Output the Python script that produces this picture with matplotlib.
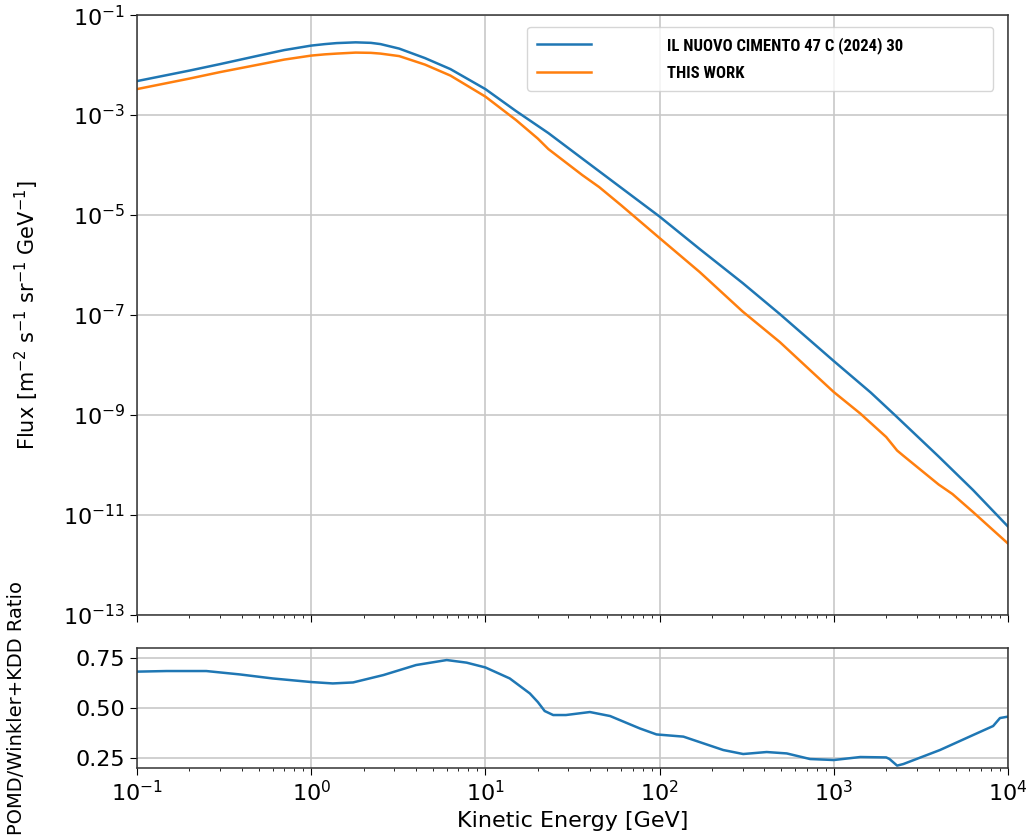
import numpy as np
import matplotlib
matplotlib.use("Agg")
import matplotlib.pyplot as plt
from matplotlib import font_manager
from matplotlib.ticker import NullLocator, FormatStrFormatter

# flux (energy in GeV, log10 of flux)
energy_ref = [0.1, 0.2, 0.3, 0.5, 0.7, 1.0, 1.2, 1.4, 1.8, 2.2, 2.5, 3.2, 4.5, 6.3, 10, 15,
              23, 36, 60, 100, 170, 300, 490, 1000, 1630, 2290, 4000, 6300, 10000]
logflux_ref = [-2.32, -2.11, -1.98, -1.81, -1.70, -1.61, -1.58, -1.56, -1.545, -1.555, -1.58,
               -1.67, -1.86, -2.08, -2.48, -2.92, -3.36, -3.87, -4.45, -5.03, -5.68, -6.36,
               -6.98, -7.92, -8.55, -9.03, -9.83, -10.5, -11.23]

energy_this = [0.1, 0.2, 0.3, 0.5, 0.7, 1.0, 1.2, 1.4, 1.8, 2.2, 2.5, 3.2, 4.5, 6.3, 10, 15,
               20, 23, 36, 45, 60, 100, 170, 300, 490, 730, 1000, 1420, 2000, 2310, 2500,
               4000, 4800, 6300, 8200, 10000]
logflux_this = [-2.48, -2.27, -2.14, -1.99, -1.89, -1.81, -1.785, -1.77, -1.75, -1.755, -1.77,
                -1.82, -1.99, -2.21, -2.63, -3.10, -3.47, -3.68, -4.20, -4.44, -4.80, -5.46,
                -6.14, -6.93, -7.54, -8.10, -8.54, -8.97, -9.44, -9.71, -9.81, -10.39,
                -10.58, -10.94, -11.30, -11.57]

# ratio panel
energy_ratio = [0.1, 0.148, 0.25, 0.39, 0.6, 1.0, 1.33, 1.74, 2.6, 4.0, 6.0, 7.8, 10, 13.8,
                18, 20, 21.9, 24.5, 29, 39.8, 52, 77, 96, 137, 232, 302, 412, 537, 731,
                1000, 1420, 2000, 2090, 2310, 2510, 4070, 6310, 8220, 9000, 10000]
ratio = [0.682, 0.685, 0.685, 0.668, 0.648, 0.63, 0.623, 0.628, 0.665, 0.715, 0.74, 0.727,
         0.703, 0.648, 0.573, 0.53, 0.485, 0.465, 0.465, 0.48, 0.46, 0.398, 0.368, 0.357,
         0.29, 0.27, 0.28, 0.273, 0.245, 0.24, 0.255, 0.253, 0.245, 0.212, 0.22, 0.29,
         0.365, 0.41, 0.45, 0.457]

label_ref = "IL NUOVO CIMENTO 47 C (2024) 30"
label_this = "THIS WORK"

# condensed bold font for the legend, if one is around
available = {f.name for f in font_manager.fontManager.ttflist}
legend_font = "DejaVu Sans"
for name in ["Liberation Sans Narrow", "Roboto Condensed", "DejaVu Sans Condensed", "Liberation Sans"]:
    if name in available:
        legend_font = name
        break

plt.rcParams["font.family"] = ["DejaVu Sans"]

fig = plt.figure(figsize=(10.30, 8.39), dpi=100)
ax = fig.add_axes([0.133, 0.267, 0.8456, 0.715])
axr = fig.add_axes([0.133, 0.0846, 0.8456, 0.143], sharex=ax)

blue = "#1f77b4"
orange = "#ff7f0e"

ax.plot(energy_ref, 10.0 ** np.array(logflux_ref), color=blue, lw=1.8, label=label_ref)
ax.plot(energy_this, 10.0 ** np.array(logflux_this), color=orange, lw=1.8, label=label_this)
ax.set_xscale("log")
ax.set_yscale("log")
ax.set_xlim(0.1, 1e4)
ax.set_ylim(1e-13, 1e-1)
ax.set_yticks([10.0 ** e for e in range(-1, -14, -2)])
ax.yaxis.set_minor_locator(NullLocator())
ax.tick_params(labelbottom=False, labelsize=16, length=5)
ax.grid(True, color="#c8c8c8", lw=1.2)
ax.set_ylabel(r"Flux [m$^{-2}$ s$^{-1}$ sr$^{-1}$ GeV$^{-1}$]", fontsize=15)
ax.yaxis.set_label_coords(-0.11, 0.5)

leg = ax.legend(loc="upper left", bbox_to_anchor=(0.448, 0.872, 0.535, 0.108), mode="expand",
                borderaxespad=0, borderpad=0.6, handlelength=3.2, handletextpad=4.6,
                labelspacing=0.7, prop={"family": legend_font, "weight": "bold", "size": 12})

axr.plot(energy_ratio, ratio, color=blue, lw=1.8)
axr.set_ylim(0.2, 0.8)
axr.set_yticks([0.25, 0.50, 0.75])
axr.yaxis.set_major_formatter(FormatStrFormatter("%.2f"))
axr.tick_params(labelsize=16, length=5)
axr.grid(True, color="#c8c8c8", lw=1.2)
axr.set_xlabel("Kinetic Energy [GeV]", fontsize=16)
axr.set_ylabel("POMD/Winkler+KDD Ratio", fontsize=14)
axr.yaxis.set_label_coords(-0.127, 0.5)

for a in (ax, axr):
    for s in a.spines.values():
        s.set_color("#333333")
        s.set_linewidth(1.1)

fig.savefig("out.png", dpi=100)
